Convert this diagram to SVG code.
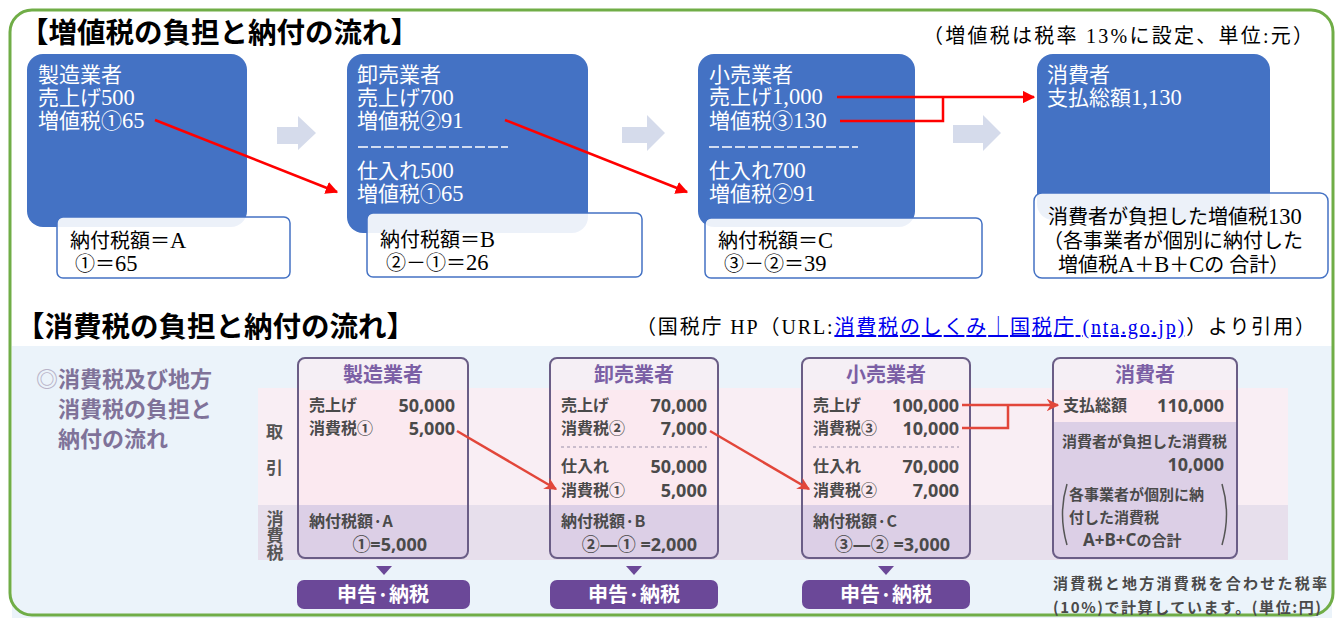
<svg xmlns="http://www.w3.org/2000/svg" width="1338" height="618" viewBox="0 0 1338 618">
<style>
.ttl{font-family:"Noto Sans CJK JP",sans-serif;font-weight:700;font-size:28.5px;fill:#000}
.note{font-family:"Liberation Serif","Noto Sans CJK JP",serif;font-size:20px;fill:#000}
.bt{font-family:"Liberation Serif","Noto Sans CJK JP",serif;font-size:21px;fill:#fff}
.wt{font-family:"Liberation Serif","Noto Sans CJK JP",serif;font-size:20px;fill:#000}
.d{font-size:22.5px}
.blue{fill:#4472c4}
.wbox{fill:#fff;fill-opacity:0.9;stroke:#4472c4;stroke-width:1.5}
.garrow{fill:#d5dbeb}
.red{stroke:#ff0000;stroke-width:2.5;fill:none}
.red2{stroke:#e2463a;stroke-width:2.5;fill:none}
.lt{font-family:"Noto Sans CJK JP",sans-serif;font-weight:700;font-size:22px;fill:#7f7299}
.col{font-family:"Noto Sans CJK JP",sans-serif;font-weight:700;font-size:17px;fill:#555}
.hd{font-family:"Noto Sans CJK JP",sans-serif;font-weight:700;font-size:20px;fill:#7b5fa5;text-anchor:middle}
.lb{font-family:"Noto Sans CJK JP",sans-serif;font-weight:700;font-size:16px;fill:#4a4a4a}
.nm{font-family:"Noto Sans","Noto Sans CJK JP",sans-serif;font-weight:700;font-size:18px;fill:#4a4a4a;text-anchor:end}
.sm{font-family:"Noto Sans CJK JP",sans-serif;font-weight:700;font-size:15px;fill:#4a4a4a}
.btn{fill:#6b4898}
.btt{font-family:"Noto Sans CJK JP",sans-serif;font-weight:700;font-size:20px;fill:#fff;text-anchor:middle}
.brd{fill:none;stroke:#6a5d86;stroke-width:2}
.hdf{fill:#f5eff5}
.pk{fill:#fbe9f0}
.lv{fill:#dccfe6}
.dash{stroke:#9a8fa8;stroke-width:1.2;stroke-dasharray:3,3}
</style>
<defs>
<marker id="ah" viewBox="0 0 10 10" refX="9" refY="5" markerWidth="5" markerHeight="5" orient="auto" markerUnits="strokeWidth">
<path d="M0,0 L10,5 L0,10 z" fill="#ff0000"/>
</marker>
<marker id="ah2" viewBox="0 0 10 10" refX="9" refY="5" markerWidth="5" markerHeight="5" orient="auto" markerUnits="strokeWidth">
<path d="M0,0 L10,5 L0,10 L3,5 z" fill="#e2463a"/>
</marker>
</defs>

<!-- bottom background and bands -->
<rect x="12" y="346" width="1320" height="272" fill="#ebf3fa"/>
<rect x="258" y="388" width="1030" height="117" fill="#f9eef4"/>
<rect x="258" y="505" width="1030" height="55" fill="#e7dfec"/>

<!-- outer frame -->
<rect x="10" y="10" width="1323" height="605" rx="22" fill="none" stroke="#70ad47" stroke-width="3"/>

<!-- titles -->
<text class="ttl" x="20" y="43">【増値税の負担と納付の流れ】</text>
<text class="note" x="923" y="43" textLength="390" lengthAdjust="spacing">（増値税は税率 13%に設定、単位:元）</text>
<text class="ttl" x="16" y="337" font-size="27.5">【消費税の負担と納付の流れ】</text>
<text class="note" x="636" y="334" textLength="679" lengthAdjust="spacing">（国税庁 HP（URL:<tspan fill="#0000ee" text-decoration="underline">消費税のしくみ｜国税庁 (nta.go.jp)</tspan>）より引用）</text>

<!-- top section nodes -->
<g id="vat-manufacturer">
<rect class="blue" x="27" y="54" width="220" height="173" rx="16"/>
<text class="bt" x="38" y="82">製造業者</text>
<text class="bt" x="38" y="105">売上げ<tspan class="d">500</tspan></text>
<text class="bt" x="38" y="128">増値税①<tspan class="d">65</tspan></text>
<rect class="wbox" x="57" y="217" width="233" height="61" rx="6"/>
<text class="wt" x="70" y="248">納付税額＝<tspan class="d">A</tspan></text>
<text class="wt" x="75" y="271">①＝<tspan class="d">65</tspan></text>
</g>
<g id="vat-wholesaler">
<rect class="blue" x="347" y="54" width="241" height="179" rx="16"/>
<text class="bt" x="357" y="82">卸売業者</text>
<text class="bt" x="357" y="105">売上げ<tspan class="d">700</tspan></text>
<text class="bt" x="357" y="128">増値税②<tspan class="d">91</tspan></text>
<line x1="358" y1="147" x2="508" y2="147" stroke="#fff" stroke-width="1.5" stroke-dasharray="10,3"/>
<text class="bt" x="357" y="178">仕入れ<tspan class="d">500</tspan></text>
<text class="bt" x="357" y="201">増値税①<tspan class="d">65</tspan></text>
<rect class="wbox" x="367" y="213" width="275" height="64" rx="6"/>
<text class="wt" x="380" y="247">納付税額＝<tspan class="d">B</tspan></text>
<text class="wt" x="386" y="270">②－①＝<tspan class="d">26</tspan></text>
</g>
<g id="vat-retailer">
<rect class="blue" x="698" y="54" width="217" height="173" rx="16"/>
<text class="bt" x="709" y="82">小売業者</text>
<text class="bt" x="709" y="104">売上げ<tspan class="d">1,000</tspan></text>
<text class="bt" x="709" y="128">増値税③<tspan class="d">130</tspan></text>
<line x1="709" y1="147" x2="858" y2="147" stroke="#fff" stroke-width="1.5" stroke-dasharray="10,3"/>
<text class="bt" x="709" y="178">仕入れ<tspan class="d">700</tspan></text>
<text class="bt" x="709" y="201">増値税②<tspan class="d">91</tspan></text>
<rect class="wbox" x="705" y="218" width="277" height="60" rx="6"/>
<text class="wt" x="718" y="248">納付税額＝<tspan class="d">C</tspan></text>
<text class="wt" x="724" y="271">③－②＝<tspan class="d">39</tspan></text>
</g>
<g id="vat-consumer">
<rect class="blue" x="1037" y="54" width="233" height="166" rx="16"/>
<text class="bt" x="1047" y="82">消費者</text>
<text class="bt" x="1047" y="105">支払総額<tspan class="d">1,130</tspan></text>
<rect class="wbox" x="1034" y="193" width="294" height="85" rx="8"/>
<text class="wt" x="1048" y="224">消費者が負担した増値税<tspan class="d">130</tspan></text>
<text class="wt" x="1043" y="248">（各事業者が個別に納付した</text>
<text class="wt" x="1058" y="272">増値税<tspan class="d">A</tspan>＋<tspan class="d">B</tspan>＋<tspan class="d">C</tspan>の 合計）</text>
</g>

<!-- bottom section nodes -->
<g id="ct-heading">
<text class="lt" x="36" y="387"><tspan fill="#b9b3c9">◎</tspan>消費税及び地方</text>
<text class="lt" x="58" y="417">消費税の負担と</text>
<text class="lt" x="58" y="447">納付の流れ</text>
</g>
<g id="ct-rowlabels">
<text class="col" x="266" y="438">取</text>
<text class="col" x="266" y="474">引</text>
<text class="col" x="275" y="510" font-size="14" style="writing-mode:vertical-rl">消費税</text>
</g>

<g id="ct-manufacturer">
<rect class="lv" x="298" y="358" width="170" height="200" rx="7"/>
<rect class="hdf" x="298" y="358" width="170" height="40" rx="7"/>
<rect class="pk" x="298" y="390" width="170" height="115"/>
<rect class="brd" x="298" y="358" width="170" height="200" rx="7"/>
<text class="hd" x="383" y="382">製造業者</text>
<text class="lb" x="309" y="411">売上げ</text><text class="nm" x="455" y="412">50,000</text>
<text class="lb" x="309" y="434">消費税①</text><text class="nm" x="455" y="435">5,000</text>
<text class="lb" x="309" y="527">納付税額·A</text>
<text class="nm" x="427" y="551">①=5,000</text>
<path class="btn" d="M376,566 L392,566 L384,575 z"/>
<rect class="btn" x="297" y="580" width="173" height="29" rx="7"/>
<text class="btt" x="383" y="602">申告·納税</text>
</g>

<g id="ct-wholesaler">
<rect class="lv" x="550" y="358" width="168" height="200" rx="7"/>
<rect class="hdf" x="550" y="358" width="168" height="40" rx="7"/>
<rect class="pk" x="550" y="390" width="168" height="115"/>
<rect class="brd" x="550" y="358" width="168" height="200" rx="7"/>
<text class="hd" x="634" y="382">卸売業者</text>
<text class="lb" x="561" y="411">売上げ</text><text class="nm" x="707" y="412">70,000</text>
<text class="lb" x="561" y="434">消費税②</text><text class="nm" x="707" y="435">7,000</text>
<line class="dash" x1="561" y1="447" x2="707" y2="447"/>
<text class="lb" x="561" y="472">仕入れ</text><text class="nm" x="707" y="473">50,000</text>
<text class="lb" x="561" y="496">消費税①</text><text class="nm" x="707" y="497">5,000</text>
<text class="lb" x="561" y="527">納付税額·B</text>
<text class="nm" x="697" y="551">②—① =2,000</text>
<path class="btn" d="M626,566 L642,566 L634,575 z"/>
<rect class="btn" x="550" y="580" width="168" height="29" rx="7"/>
<text class="btt" x="634" y="602">申告·納税</text>
</g>

<g id="ct-retailer">
<rect class="lv" x="802" y="358" width="168" height="200" rx="7"/>
<rect class="hdf" x="802" y="358" width="168" height="40" rx="7"/>
<rect class="pk" x="802" y="390" width="168" height="115"/>
<rect class="brd" x="802" y="358" width="168" height="200" rx="7"/>
<text class="hd" x="886" y="382">小売業者</text>
<text class="lb" x="813" y="411">売上げ</text><text class="nm" x="959" y="412">100,000</text>
<text class="lb" x="813" y="434">消費税③</text><text class="nm" x="959" y="435">10,000</text>
<line class="dash" x1="813" y1="447" x2="959" y2="447"/>
<text class="lb" x="813" y="472">仕入れ</text><text class="nm" x="959" y="473">70,000</text>
<text class="lb" x="813" y="496">消費税②</text><text class="nm" x="959" y="497">7,000</text>
<text class="lb" x="813" y="527">納付税額·C</text>
<text class="nm" x="950" y="551">③—② =3,000</text>
<path class="btn" d="M878,566 L894,566 L886,575 z"/>
<rect class="btn" x="802" y="580" width="168" height="29" rx="7"/>
<text class="btt" x="886" y="602">申告·納税</text>
</g>

<g id="ct-consumer">
<rect class="lv" x="1053" y="358" width="184" height="200" rx="7"/>
<rect class="hdf" x="1053" y="358" width="184" height="40" rx="7"/>
<rect class="pk" x="1053" y="390" width="184" height="32"/>
<rect class="brd" x="1053" y="358" width="184" height="200" rx="7"/>
<text class="hd" x="1145" y="382">消費者</text>
<text class="lb" x="1063" y="411">支払総額</text><text class="nm" x="1224" y="412">110,000</text>
<text class="sm" x="1062" y="447">消費者が負担した消費税</text>
<text class="nm" x="1224" y="471">10,000</text>
<path d="M1067,484 Q1058,514 1067,545" fill="none" stroke="#555" stroke-width="1.5"/>
<path d="M1222,484 Q1231,514 1222,545" fill="none" stroke="#555" stroke-width="1.5"/>
<text class="sm" x="1069" y="500" font-size="16">各事業者が個別に納</text>
<text class="sm" x="1069" y="523" font-size="16">付した消費税</text>
<text class="sm" x="1083" y="546" font-size="16"><tspan font-family="Noto Sans,sans-serif" font-size="17">A+B+C</tspan>の合計</text>
<text class="sm" x="1053" y="589" font-size="17" fill="#555" textLength="274" lengthAdjust="spacing">消費税と地方消費税を合わせた税率</text>
<text class="sm" x="1053" y="613" font-size="17" fill="#555" textLength="268" lengthAdjust="spacing">(10%)で計算しています。(単位:円)</text>
</g>

<!-- connectors -->
<g id="connectors">
<path class="garrow" d="M277,127 L298,127 L298,116 L316,133 L298,150 L298,144 L277,144 z"/>
<path class="garrow" d="M622,127 L647,127 L647,115 L665,133 L647,151 L647,143 L622,143 z"/>
<path class="garrow" d="M953,125 L983,125 L983,115 L1001,133 L983,151 L983,143 L953,143 z"/>
<line class="red" x1="155" y1="120" x2="337" y2="192" marker-end="url(#ah)"/>
<line class="red" x1="505" y1="120" x2="687" y2="192" marker-end="url(#ah)"/>
<line class="red" x1="837" y1="97" x2="1034" y2="97" marker-end="url(#ah)"/>
<polyline class="red" points="840,121 943,121 943,97"/>
<line class="red2" x1="457" y1="431" x2="556" y2="489" marker-end="url(#ah2)"/>
<line class="red2" x1="710" y1="431" x2="809" y2="489" marker-end="url(#ah2)"/>
<line class="red2" x1="962" y1="405" x2="1058" y2="405" marker-end="url(#ah2)"/>
<polyline class="red2" points="962,428 1008,428 1008,405"/>
</g>
</svg>
